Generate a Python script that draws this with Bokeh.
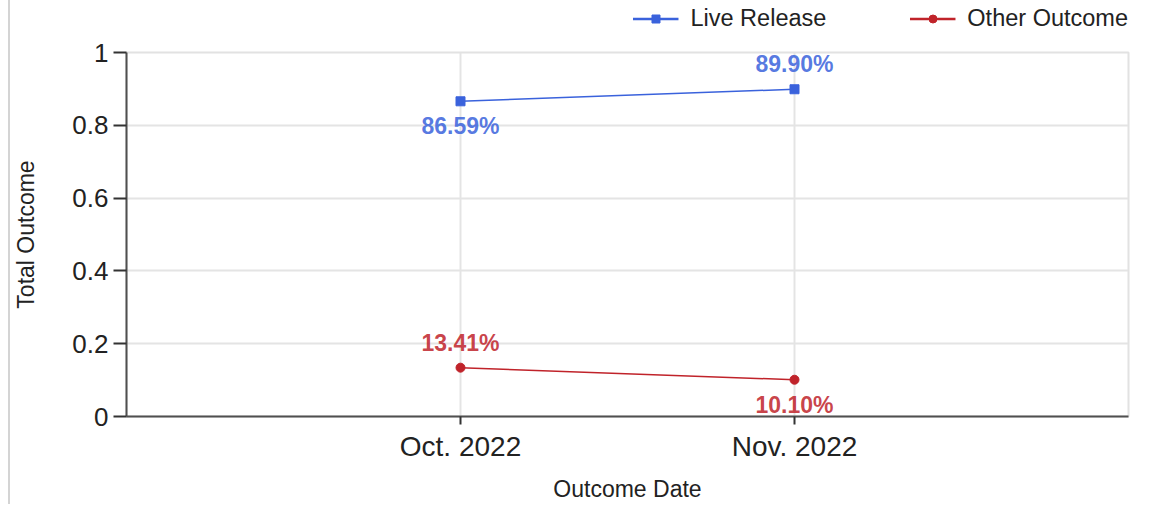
from bokeh.plotting import figure
from bokeh.layouts import row, column
from bokeh.models import (FactorRange, Range1d, Legend, LegendItem, ColumnDataSource, Spacer)
from bokeh.core.properties import value
from bokeh.embed import file_html
from bokeh.resources import INLINE

# ---- data ----
dates = ["Oct. 2022", "Nov. 2022"]
live_release = [0.8659, 0.8990]
other_outcome = [0.1341, 0.1010]
y_ticks = [0, 0.2, 0.4, 0.6, 0.8, 1]
y_tick_labels = ["0", "0.2", "0.4", "0.6", "0.8", "1"]
series_names = ["Live Release", "Other Outcome"]

# ---- style ----
live_label_side = [-1, 1]    # -1: label below the point, 1: above
other_label_side = [1, -1]
FONT = "Liberation Sans"
BLUE = "#3a62dc"
RED = "#c0232a"
LABEL_GAP = 25
W = 1140

p = figure(
    x_range=FactorRange(factors=dates, range_padding=0.5, range_padding_units="absolute"),
    y_range=Range1d(0, 1),
    width=W, height=468,
    output_backend="svg", toolbar_location=None,
    min_border_left=112, min_border_right=22, min_border_top=16, min_border_bottom=81,
)
p.background_fill_color = "white"
p.border_fill_color = "white"
p.outline_line_color = "#e2e2e2"
p.outline_line_width = 2

for g in (p.xgrid, p.ygrid):
    g.grid_line_color = "#e4e4e4"
    g.grid_line_width = 2

p.yaxis.ticker = y_ticks
p.yaxis.major_label_overrides = {t: l for t, l in zip(y_ticks, y_tick_labels)}
for ax in (p.xaxis, p.yaxis):
    ax.axis_line_color = "#505050"
    ax.axis_line_width = 2
    ax.major_tick_line_color = "#333333"
    ax.major_tick_line_width = 2
    ax.major_tick_in = 0
    ax.minor_tick_line_color = None
    ax.major_label_text_font = FONT
    ax.major_label_text_color = "#222222"
    ax.axis_label_text_font = FONT
    ax.axis_label_text_font_style = "normal"
    ax.axis_label_text_font_size = "23px"
    ax.axis_label_text_color = "#222222"
p.yaxis.major_label_text_font_size = "26px"
p.xaxis.major_label_text_font_size = "28px"
p.yaxis.major_tick_out = 13
p.yaxis.major_label_standoff = 5
p.yaxis.axis_label = "Total Outcome"
p.yaxis.axis_label_standoff = 30
p.xaxis.major_tick_out = 8
p.xaxis.major_label_standoff = 6
p.xaxis.axis_label = "Outcome Date"
p.xaxis.axis_label_standoff = 11

# legend strip above the chart
lf = figure(width=W, height=36, x_range=Range1d(0, 1), y_range=Range1d(0, 1),
            output_backend="svg", toolbar_location=None,
            x_axis_type=None, y_axis_type=None,
            min_border_left=112, min_border_right=22, min_border_top=0, min_border_bottom=0)
lf.grid.visible = False
lf.outline_line_color = None
lf.background_fill_color = "white"
lf.border_fill_color = "white"

legend_items = []
for name, vals, sides, color, marker in [
    (series_names[0], live_release, live_label_side, BLUE, "square"),
    (series_names[1], other_outcome, other_label_side, RED, "circle"),
]:
    src = ColumnDataSource(dict(
        x=dates, y=vals,
        lab=[f"{v * 100:.2f}%" for v in vals],
        off=[-LABEL_GAP * s for s in sides],
    ))
    p.line("x", "y", source=src, line_color=color, line_width=1.5)
    p.scatter("x", "y", source=src, marker=marker, size=9,
              fill_color=color, line_color=color)
    p.text("x", "y", text="lab", source=src, y_offset="off",
           text_align="center", text_baseline="middle",
           text_font=value(FONT), text_font_size="23px", text_font_style="bold",
           text_color=color, text_alpha=0.85)
    # legend key glyphs: kept outside the strip's visible range, shown only in the key
    lln = lf.line(x=[5, 6], y=[5, 6], line_color=color, line_width=2.5)
    lsc = lf.scatter(x=[5, 6], y=[5, 6], marker=marker, size=6,
                     fill_color=color, line_color=color)
    legend_items.append(LegendItem(label=name, renderers=[lln, lsc]))

legend = Legend(
    items=legend_items, orientation="horizontal", location="right",
    label_text_font=FONT, label_text_font_size="23.5px", label_text_color="#222222",
    glyph_width=46, glyph_height=20, label_standoff=12, spacing=83,
    padding=0, margin=0, border_line_color=None, background_fill_alpha=0,
)
lf.add_layout(legend)

layout = row(
    Spacer(width=8, height=504),
    Spacer(width=2, height=504, styles={"background-color": "#d4d4d4"}),
    column(lf, p, spacing=0),
    spacing=0,
)

open("out.html", "w").write(file_html(layout, INLINE))
